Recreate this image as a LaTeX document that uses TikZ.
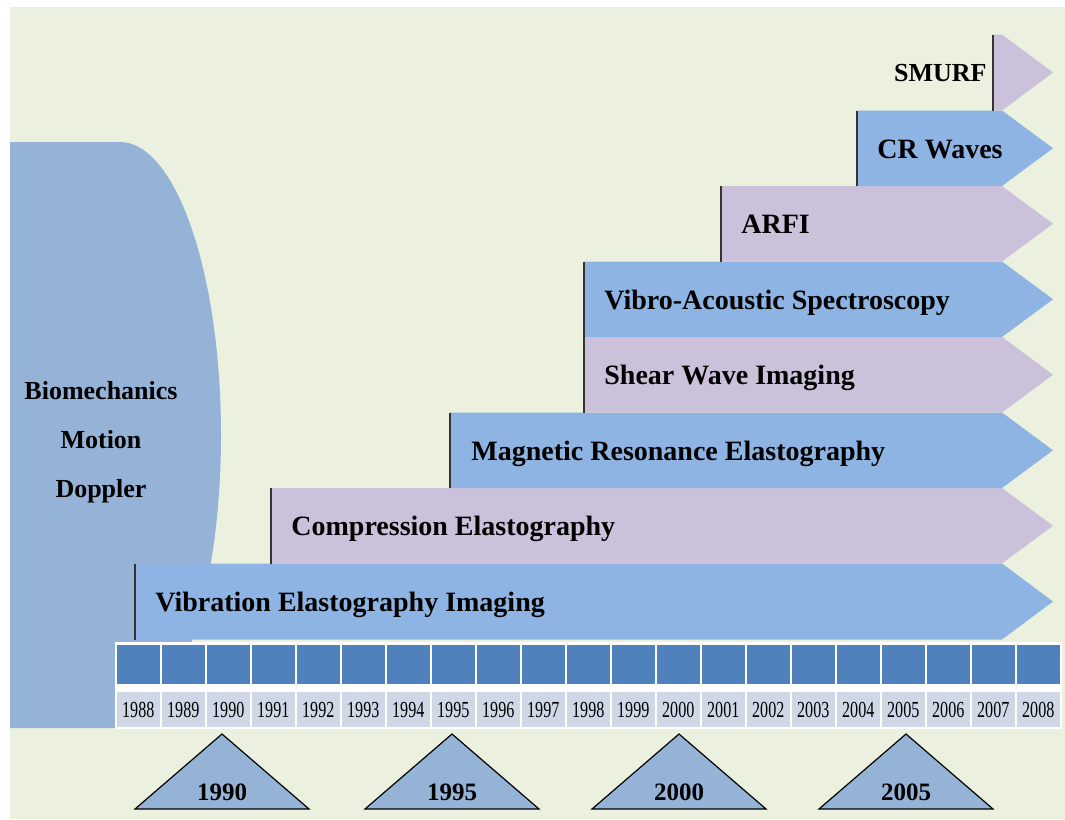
\documentclass[tikz,border=0pt]{standalone}
\usepackage{fontspec}
\setmainfont{Liberation Serif}
\definecolor{bgc}{HTML}{EBF1DE}
\definecolor{bioc}{HTML}{95B3D7}
\definecolor{blueband}{HTML}{8DB4E2}
\definecolor{purpleband}{HTML}{CCC1DA}
\definecolor{darkcell}{HTML}{4F81BD}
\definecolor{lightcell}{HTML}{D0D8E8}
\definecolor{edgec}{HTML}{333333}
\tikzset{
  bandtext/.style={anchor=base west, inner sep=0pt, font=\fontsize{14}{16}\selectfont\bfseries},
  biotext/.style={anchor=base, inner sep=0pt, font=\fontsize{13}{15}\selectfont\bfseries},
  yeartext/.style={anchor=base, inner sep=0pt, xscale=0.7, font=\fontsize{11.5}{13}\selectfont},
  tritext/.style={anchor=base, inner sep=0pt, font=\fontsize{12.5}{14}\selectfont\bfseries},
  edgeline/.style={draw=edgec, line width=0.8pt},
  trishape/.style={fill=bioc, draw=black, line width=0.6pt, line join=miter},
}
\begin{document}
\begin{tikzpicture}[x=0.5pt,y=-0.5pt]
\useasboundingbox (0,0) rectangle (1065,819);
\fill[white] (0,0) rectangle (1065,819);
\fill[bgc] (10,7) rectangle (1065,819);
% biomechanics shape
\fill[bioc] (10,142) -- (120,142) arc[start angle=90, end angle=-90, x radius=101, y radius=-293] -- (10,728) -- cycle;
\node[biotext] (bio1) at (101,399) {Biomechanics};
\node[biotext] (bio2) at (101,448) {Motion};
\node[biotext] (bio3) at (101,497) {Doppler};
% bands
\foreach \L/\T/\B/\col/\nm in {135/563.5/639.5/blueband/b1, 271/488/563.5/purpleband/b2, 450/412.5/488/blueband/b3, 584/337/412.5/purpleband/b4, 584/261.5/337/blueband/b5, 721/186/261.5/purpleband/b6, 857/110.5/186/blueband/b7, 993/34.5/110.5/purpleband/b8}{
  \fill[\col] (\L,\T) -- (1002,\T) -- (1053,{(\T+\B)/2}) -- (1002,\B) -- (\L,\B) -- cycle;
  \coordinate (\nm) at (\L,{(\T+\B)/2});
}
\draw[edgeline] (135,563.5) -- (135,639.5);
\draw[edgeline] (271,488) -- (271,563.5);
\draw[edgeline] (450,412.5) -- (450,488);
\draw[edgeline] (584,261.5) -- (584,412.5);
\draw[edgeline] (721,186) -- (721,261.5);
\draw[edgeline] (857,110.5) -- (857,186);
\draw[edgeline] (993,34.5) -- (993,110.5);
\node[bandtext] (t1) at (155,611) {Vibration Elastography Imaging};
\node[bandtext] (t2) at (291,535.5) {Compression Elastography};
\node[bandtext] (t3) at (471,460) {Magnetic Resonance Elastography};
\node[bandtext] (t4) at (604,384.5) {Shear Wave Imaging};
\node[bandtext] (t5) at (604,309) {Vibro-Acoustic Spectroscopy};
\node[bandtext] (t6) at (741,233.5) {ARFI};
\node[bandtext] (t7) at (877,158) {CR Waves};
\node[bandtext, anchor=base east, font=\fontsize{13}{15}\selectfont\bfseries] (t8) at (987,81) {SMURF};
% timeline
\fill[white] (115,641.5) rectangle (1062,729);
\foreach \i in {0,...,20}{
  \pgfmathsetmacro{\xa}{117+45*\i}
  \fill[darkcell] (\xa,644.5) rectangle ++(42.5,39);
  \fill[lightcell] (\xa,691.5) rectangle ++(42.5,35.5);
  \pgfmathtruncatemacro{\yr}{1988+\i}
  \node[yeartext] (y\yr) at (\xa+21.25,717) {\yr};
}
% triangles
\foreach \c/\yy in {222/1990, 452/1995, 679/2000, 906/2005}{
  \draw[trishape] (\c-87,809) -- (\c,734) -- (\c+87,809) -- cycle;
  \node[tritext] (tri\yy) at (\c,800) {\yy};
}
\end{tikzpicture}
\end{document}
